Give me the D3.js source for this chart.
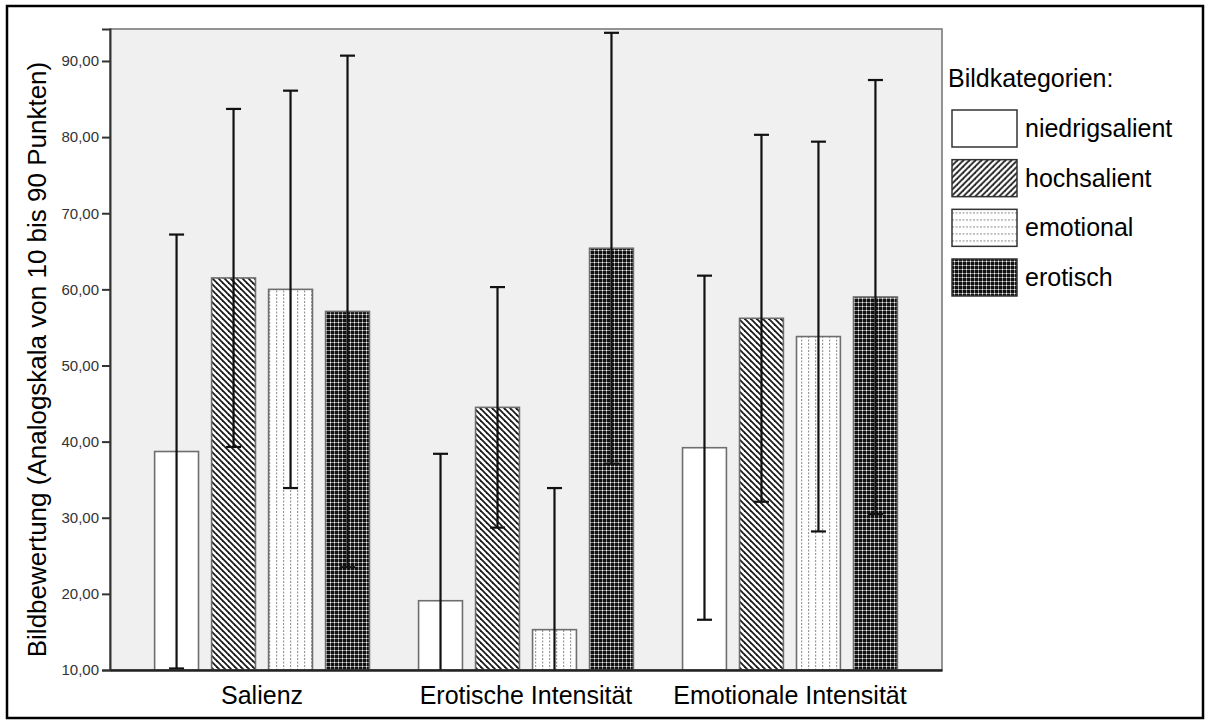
<!DOCTYPE html>
<html>
<head>
<meta charset="utf-8">
<script src="https://cdn.jsdelivr.net/npm/d3@7"></script>
<style>
  html, body { margin: 0; padding: 0; background: #fff; }
  svg { display: block; }
  text { font-family: Arial, "Liberation Sans", sans-serif; }
</style>
</head>
<body>
<svg id="chart" width="1207" height="720"></svg>
<script>
// Rating dimensions (x groups) and picture categories (series)
const categories = ["Salienz", "Erotische Intensität", "Emotionale Intensität"];
const seriesNames = ["niedrigsalient", "hochsalient", "emotional", "erotisch"];

// Mean ratings per series, one value per rating dimension
const meanNiedrigsalient = [38.7, 19.1, 39.2];
const meanHochsalient    = [61.5, 44.5, 56.2];
const meanEmotional      = [60.0, 15.3, 53.8];
const meanErotisch       = [57.1, 65.4, 59.0];

// Standard deviations (error bars are mean ± SD)
const sdNiedrigsalient = [28.5, 19.3, 22.6];
const sdHochsalient    = [22.2, 15.8, 24.1];
const sdEmotional      = [26.1, 18.6, 25.6];
const sdErotisch       = [33.6, 28.3, 28.5];

const yTicks = [10, 20, 30, 40, 50, 60, 70, 80, 90];
const yTitle = "Bildbewertung (Analogskala von 10 bis 90 Punkten)";
const legendTitle = "Bildkategorien:";

const means = [meanNiedrigsalient, meanHochsalient, meanEmotional, meanErotisch];
const sds = [sdNiedrigsalient, sdHochsalient, sdEmotional, sdErotisch];

const rows = [];
categories.forEach((c, ci) => {
  seriesNames.forEach((s, si) => {
    rows.push({ category: c, series: s, si, mean: means[si][ci], sd: sds[si][ci] });
  });
});

const svg = d3.select("#chart");
const plot = { left: 110, right: 942, top: 29, bottom: 670 };

// ---- fill patterns ----
const defs = svg.append("defs");

// diagonal hatch: "\" for bars, "/" for the legend swatch
function hatch(id, dir) {
  const p = defs.append("pattern").attr("id", id)
    .attr("patternUnits", "userSpaceOnUse").attr("width", 6).attr("height", 6);
  p.append("rect").attr("width", 6).attr("height", 6).attr("fill", "#fff");
  const g = p.append("g").attr("stroke", "#1a1a1a").attr("stroke-width", 1.8);
  if (dir === "back") {
    g.append("line").attr("x1", 0).attr("y1", 0).attr("x2", 6).attr("y2", 6);
    g.append("line").attr("x1", -3).attr("y1", 3).attr("x2", 3).attr("y2", 9);
    g.append("line").attr("x1", 3).attr("y1", -3).attr("x2", 9).attr("y2", 3);
  } else {
    g.append("line").attr("x1", 0).attr("y1", 6).attr("x2", 6).attr("y2", 0);
    g.append("line").attr("x1", -3).attr("y1", 3).attr("x2", 3).attr("y2", -3);
    g.append("line").attr("x1", 3).attr("y1", 9).attr("x2", 9).attr("y2", 3);
  }
}
hatch("hatchBar", "back");
hatch("hatchLegend", "fwd");

// dashed lines: vertical for bars, horizontal for legend
function dashes(id, vertical) {
  const p = defs.append("pattern").attr("id", id)
    .attr("patternUnits", "userSpaceOnUse").attr("width", 7).attr("height", 7);
  p.append("rect").attr("width", 7).attr("height", 7).attr("fill", "#fff");
  const g = p.append("g").attr("fill", "#9a9a9a");
  if (vertical) {
    g.append("rect").attr("x", 3).attr("y", 0).attr("width", 1.2).attr("height", 2);
    g.append("rect").attr("x", 3).attr("y", 3.5).attr("width", 1.2).attr("height", 2);
  } else {
    g.append("rect").attr("x", 0).attr("y", 3).attr("width", 2).attr("height", 1.2);
    g.append("rect").attr("x", 3.5).attr("y", 3).attr("width", 2).attr("height", 1.2);
  }
}
dashes("dashBar", true);
dashes("dashLegend", false);

// dense checked grid
(function () {
  const p = defs.append("pattern").attr("id", "checks")
    .attr("patternUnits", "userSpaceOnUse").attr("width", 4).attr("height", 4);
  p.append("rect").attr("width", 4).attr("height", 4).attr("fill", "#111");
  p.append("rect").attr("x", 0).attr("y", 2).attr("width", 4).attr("height", 1).attr("fill", "#8a8a8a");
  p.append("rect").attr("x", 2).attr("y", 0).attr("width", 1).attr("height", 4).attr("fill", "#8a8a8a");
  p.append("rect").attr("x", 2).attr("y", 2).attr("width", 1).attr("height", 1).attr("fill", "#f4f4f4");
})();

const barFill = {
  niedrigsalient: "#ffffff",
  hochsalient: "url(#hatchBar)",
  emotional: "url(#dashBar)",
  erotisch: "url(#checks)"
};
const legendFill = {
  niedrigsalient: "#ffffff",
  hochsalient: "url(#hatchLegend)",
  emotional: "url(#dashLegend)",
  erotisch: "url(#checks)"
};

defs.append("clipPath").attr("id", "plotClip")
  .append("rect").attr("x", plot.left).attr("y", plot.top)
  .attr("width", plot.right - plot.left).attr("height", plot.bottom - plot.top);

// ---- scales ----
const y = d3.scaleLinear().domain([10, 94.2]).range([plot.bottom, plot.top]);
const x0 = d3.scaleBand().domain(categories).range([plot.left, plot.right])
  .paddingInner(0).paddingOuter(0.076);
const x1 = d3.scaleBand().domain(seriesNames).range([0, x0.bandwidth()])
  .paddingInner(0.23).paddingOuter(0.431);

// ---- outer frame ----
svg.append("rect").attr("x", 7).attr("y", 6).attr("width", 1196).attr("height", 712)
  .attr("fill", "none").attr("stroke", "#000").attr("stroke-width", 2.5);

// ---- plot background ----
svg.append("rect").attr("x", plot.left).attr("y", plot.top)
  .attr("width", plot.right - plot.left).attr("height", plot.bottom - plot.top)
  .attr("fill", "#f0f0f0").attr("stroke", "#7a7a7a").attr("stroke-width", 1.6);

// ---- bars ----
const gBars = svg.append("g");
gBars.selectAll("rect").data(rows).join("rect")
  .attr("x", d => x0(d.category) + x1(d.series))
  .attr("y", d => y(d.mean))
  .attr("width", x1.bandwidth())
  .attr("height", d => y(10) - y(d.mean))
  .attr("fill", d => barFill[d.series])
  .attr("stroke", "#6e6e6e").attr("stroke-width", 1.6);

// ---- error bars (mean ± SD) ----
const gErr = svg.append("g").attr("clip-path", "url(#plotClip)")
  .attr("stroke", "#111").attr("stroke-width", 2.2);
rows.forEach(d => {
  const cx = x0(d.category) + x1(d.series) + x1.bandwidth() / 2;
  const hi = d.mean + d.sd, lo = d.mean - d.sd;
  gErr.append("line").attr("x1", cx).attr("x2", cx).attr("y1", y(hi)).attr("y2", y(lo));
  gErr.append("line").attr("x1", cx - 7.5).attr("x2", cx + 7.5).attr("y1", y(hi)).attr("y2", y(hi));
  gErr.append("line").attr("x1", cx - 7.5).attr("x2", cx + 7.5).attr("y1", y(lo)).attr("y2", y(lo));
});

// ---- axes ----
const yAxis = d3.axisLeft(y).tickValues(yTicks).tickSize(8).tickPadding(3)
  .tickFormat(v => d3.format(".2f")(v).replace(".", ","));
const gy = svg.append("g").attr("transform", `translate(${plot.left},0)`).call(yAxis);
gy.select(".domain").attr("stroke", "#333").attr("stroke-width", 2);
gy.selectAll(".tick line").attr("stroke", "#333").attr("stroke-width", 2);
gy.selectAll(".tick text").attr("fill", "#333").style("font-size", "15px")
  .style("font-family", "Arial, 'Liberation Sans', sans-serif");

const xAxis = d3.axisBottom(x0).tickSize(0).tickPadding(16);
const gx = svg.append("g").attr("transform", `translate(0,${plot.bottom})`).call(xAxis);
gx.select(".domain").attr("stroke", "#222").attr("stroke-width", 2.6);
gx.selectAll(".tick text").attr("fill", "#000").style("font-size", "25px")
  .style("font-family", "Arial, 'Liberation Sans', sans-serif");

// y-axis title
svg.append("text")
  .attr("transform", `translate(46,${(plot.top + plot.bottom) / 2 + 10}) rotate(-90)`)
  .attr("text-anchor", "middle").style("font-size", "26px").attr("fill", "#000")
  .text(yTitle);

// ---- legend ----
const lg = svg.append("g");
lg.append("text").attr("x", 948).attr("y", 87).style("font-size", "25px").text(legendTitle);
const legendY = d3.scalePoint().domain(seriesNames).range([110, 259]);
const items = lg.selectAll("g.item").data(seriesNames).join("g").attr("class", "item")
  .attr("transform", d => `translate(952,${legendY(d)})`);
items.append("rect").attr("width", 65).attr("height", 37)
  .attr("fill", d => legendFill[d]).attr("stroke", "#333").attr("stroke-width", 1.5);
items.append("text").attr("x", 73).attr("y", 27).style("font-size", "25px").text(d => d);
</script>
</body>
</html>
